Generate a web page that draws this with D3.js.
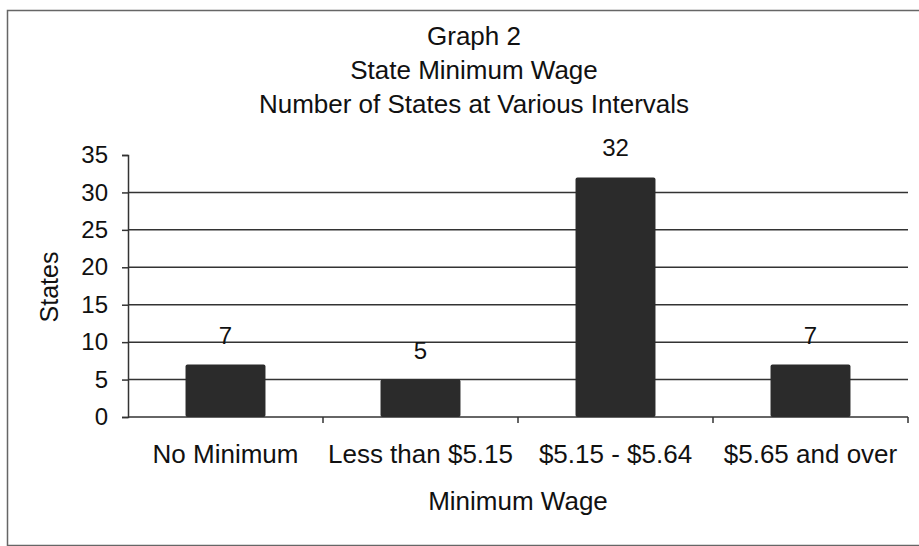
<!DOCTYPE html>
<html lang="en">
  <head>
    <meta charset="UTF-8" />
    <title>State Minimum Wage</title>
    <style>
      body { margin: 0; background: #fff; }
      text { font-family: "Liberation Sans", Arial, sans-serif; fill: #111; }
    </style>
  </head>
  <body>
    <script src="https://d3js.org/d3.v7.min.js"></script>
    <script>
      const width = 919
      const height = 546

      // data
      const categories = ["No Minimum", "Less than $5.15", "$5.15 - $5.64", "$5.65 and over"]
      const states = [7, 5, 32, 7]
      const yTicks = [0, 5, 10, 15, 20, 25, 30, 35]
      const titleLines = ["Graph 2", "State Minimum Wage", "Number of States at Various Intervals"]

      const margin = { left: 128, right: 11, top: 155, bottom: 129 }

      const svg = d3.select("body").append("svg")
        .attr("width", width)
        .attr("height", height)

      // outer frame (right side runs off the page)
      svg.append("path")
        .attr("d", "M930,10.5 H7.5 V545.5 H930")
        .attr("fill", "none")
        .attr("stroke", "#666")
        .attr("stroke-width", 1.5)

      const x = d3.scaleBand()
        .domain(categories)
        .range([margin.left, width - margin.right])
        .paddingInner(0.59)
        .paddingOuter(0.295)

      const y = d3.scaleLinear()
        .domain([0, 35])
        .range([height - margin.bottom, margin.top])

      // gridlines
      svg.append("g")
        .selectAll("line")
        .data(yTicks.filter(d => d > 0 && d < 35))
        .join("line")
        .attr("x1", margin.left)
        .attr("x2", width - margin.right)
        .attr("y1", d => y(d))
        .attr("y2", d => y(d))
        .attr("stroke", "#333")
        .attr("stroke-width", 1.5)

      // y axis
      const yAxis = svg.append("g")
        .attr("transform", `translate(${margin.left},0)`)
        .call(d3.axisLeft(y).tickValues(yTicks).tickSize(6).tickPadding(14))
      yAxis.select(".domain").attr("stroke", "#333").attr("stroke-width", 1.5)
      yAxis.selectAll(".tick line").attr("stroke", "#333").attr("stroke-width", 1.5)
      yAxis.selectAll("text").style("font-size", "24px").attr("fill", "#111")

      // x axis: ticks between categories, below the line
      const xAxis = svg.append("g")
        .attr("transform", `translate(0,${y(0)})`)
      xAxis.append("line")
        .attr("x1", margin.left)
        .attr("x2", width - margin.right)
        .attr("stroke", "#333")
        .attr("stroke-width", 1.5)
      const step = x.step()
      xAxis.selectAll(".sep")
        .data(categories)
        .join("line")
        .attr("class", "sep")
        .attr("x1", (d, i) => margin.left + step * (i + 1))
        .attr("x2", (d, i) => margin.left + step * (i + 1))
        .attr("y1", 0)
        .attr("y2", 6)
        .attr("stroke", "#333")
        .attr("stroke-width", 1.5)
      xAxis.selectAll(".lab")
        .data(categories)
        .join("text")
        .attr("class", "lab")
        .attr("x", d => x(d) + x.bandwidth() / 2)
        .attr("y", 46)
        .attr("text-anchor", "middle")
        .style("font-size", "26px")
        .text(d => d)

      // bars
      svg.append("g")
        .selectAll("rect")
        .data(states)
        .join("rect")
        .attr("x", (d, i) => x(categories[i]))
        .attr("y", d => y(d))
        .attr("width", x.bandwidth())
        .attr("height", d => y(0) - y(d))
        .attr("rx", 2)
        .attr("fill", "#2b2b2b")

      // value labels
      svg.append("g")
        .selectAll("text")
        .data(states)
        .join("text")
        .attr("x", (d, i) => x(categories[i]) + x.bandwidth() / 2)
        .attr("y", d => y(d) - 21)
        .attr("text-anchor", "middle")
        .style("font-size", "24px")
        .text(d => d)

      // titles
      svg.append("g")
        .selectAll("text")
        .data(titleLines)
        .join("text")
        .attr("x", 474)
        .attr("y", (d, i) => 45 + i * 34)
        .attr("text-anchor", "middle")
        .style("font-size", "26px")
        .text(d => d)

      svg.append("text")
        .attr("x", (margin.left + width - margin.right) / 2)
        .attr("y", 510)
        .attr("text-anchor", "middle")
        .style("font-size", "26px")
        .text("Minimum Wage")

      svg.append("text")
        .attr("transform", `translate(58,287) rotate(-90)`)
        .attr("text-anchor", "middle")
        .style("font-size", "25px")
        .text("States")
    </script>
  </body>
</html>
